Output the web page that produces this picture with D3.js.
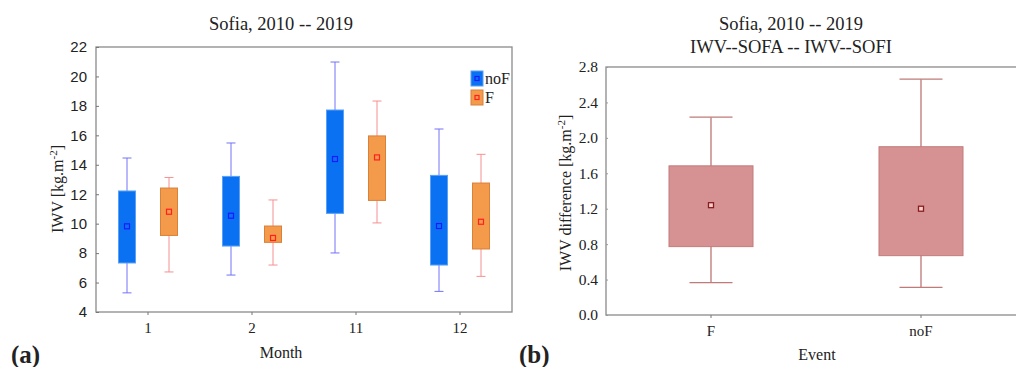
<!DOCTYPE html>
<html>
<head>
<meta charset="utf-8">
<script src="https://cdn.jsdelivr.net/npm/d3@7"></script>
<style>
  body { margin: 0; background: #fff; }
  svg text { fill: #222; }
  .serif { font-family: "Liberation Serif", "Times New Roman", serif; }
  .sans { font-family: "Liberation Sans", Arial, sans-serif; }
</style>
</head>
<body>
<div id="chart"></div>
<script>
// panel (a): IWV by month, noF vs F
const months = ["1", "2", "11", "12"];
const noF_min  = [5.30, 6.51, 8.01, 5.40];
const noF_q1   = [7.33, 8.48, 10.70, 7.19];
const noF_mean = [9.82, 10.54, 14.39, 9.84];
const noF_q3   = [12.22, 13.21, 17.72, 13.28];
const noF_max  = [14.46, 15.48, 20.98, 16.43];

const F_min  = [6.72, 7.19, 10.05, 6.42];
const F_q1   = [9.20, 8.73, 11.58, 8.28];
const F_mean = [10.81, 9.03, 14.50, 10.13];
const F_q3   = [12.42, 9.84, 15.96, 12.76];
const F_max  = [13.14, 11.61, 18.33, 14.71];

const yTicksA = [4, 6, 8, 10, 12, 14, 16, 18, 20, 22];

// panel (b): IWV difference by event
const events = ["F", "noF"];
const d_min  = [0.365, 0.313];
const d_q1   = [0.772, 0.670];
const d_mean = [1.240, 1.200];
const d_q3   = [1.684, 1.900];
const d_max  = [2.234, 2.663];

const yTicksB = [0.0, 0.4, 0.8, 1.2, 1.6, 2.0, 2.4, 2.8];

let width = 1016, height = 367;

const svg = d3.select("#chart")
  .append("svg")
  .attr("width", width)
  .attr("height", height);

// ---------- panel (a) ----------
let ma = { left: 96, right: 512, top: 47, bottom: 312 };

let xa = d3.scaleBand().domain(months).range([ma.left, ma.right]);
let ya = d3.scaleLinear().domain([4, 22]).range([ma.bottom, ma.top]);

let series = [
  { name: "noF", off: -21, min: noF_min, q1: noF_q1, mean: noF_mean, q3: noF_q3, max: noF_max,
    fill: "#0a72f2", edge: "#5aa0f5", whisk: "#7272f8", mark: "#1a1aff" },
  { name: "F", off: 21, min: F_min, q1: F_q1, mean: F_mean, q3: F_q3, max: F_max,
    fill: "#f39a4b", edge: "#d9803a", whisk: "#f49090", mark: "#ff2020" }
];

// frame
svg.append("rect")
  .attr("x", ma.left).attr("y", ma.top)
  .attr("width", ma.right - ma.left).attr("height", ma.bottom - ma.top)
  .attr("fill", "none").attr("stroke", "#8a8a8a").attr("stroke-width", 1.3);

let gya = svg.append("g")
  .attr("transform", `translate(${ma.left},0)`)
  .call(d3.axisLeft(ya).tickValues(yTicksA).tickSize(-3).tickPadding(9).tickFormat(d3.format("d")));
gya.select(".domain").remove();
gya.selectAll("line").attr("stroke", "#777");
gya.selectAll("text").attr("class", "sans").style("font-size", "15px").attr("fill", "#222");

let gxa = svg.append("g")
  .attr("transform", `translate(0,${ma.bottom})`)
  .call(d3.axisBottom(xa).tickSize(3).tickPadding(7));
gxa.select(".domain").remove();
gxa.selectAll("line").attr("stroke", "#777");
gxa.selectAll("text").attr("class", "serif").style("font-size", "15px").attr("fill", "#222");

for (let s of series) {
  let g = svg.append("g");
  let cx = (d, i) => xa(months[i]) + xa.bandwidth() / 2 + s.off;
  // whiskers
  g.selectAll(".wh").data(months).join("line")
    .attr("x1", cx).attr("x2", cx)
    .attr("y1", (d, i) => ya(s.min[i])).attr("y2", (d, i) => ya(s.max[i]))
    .attr("stroke", s.whisk).attr("stroke-width", 1);
  for (let key of ["min", "max"]) {
    g.selectAll(".cap-" + key).data(months).join("line")
      .attr("x1", (d, i) => cx(d, i) - 4.5).attr("x2", (d, i) => cx(d, i) + 4.5)
      .attr("y1", (d, i) => ya(s[key][i])).attr("y2", (d, i) => ya(s[key][i]))
      .attr("stroke", s.whisk).attr("stroke-width", 1);
  }
  // boxes
  g.selectAll(".box").data(months).join("rect")
    .attr("x", (d, i) => cx(d, i) - 8.5)
    .attr("y", (d, i) => ya(s.q3[i]))
    .attr("width", 17)
    .attr("height", (d, i) => ya(s.q1[i]) - ya(s.q3[i]))
    .attr("fill", s.fill).attr("stroke", s.edge).attr("stroke-width", 1);
  // mean markers
  g.selectAll(".mean").data(months).join("rect")
    .attr("x", (d, i) => cx(d, i) - 2.5)
    .attr("y", (d, i) => ya(s.mean[i]) - 2.5)
    .attr("width", 5).attr("height", 5)
    .attr("fill", "none").attr("stroke", s.mark).attr("stroke-width", 1.2);
}

// legend
let leg = svg.append("g").attr("transform", "translate(471,71)");
series.forEach((s, i) => {
  let lg = leg.append("g").attr("transform", `translate(0,${i * 19})`);
  lg.append("rect").attr("width", 12).attr("height", 15)
    .attr("fill", s.fill).attr("stroke", s.edge);
  lg.append("rect").attr("x", 4).attr("y", 5.5).attr("width", 4).attr("height", 4)
    .attr("fill", "none").attr("stroke", s.mark).attr("stroke-width", 1.2);
  lg.append("text").attr("class", "serif").attr("x", 14).attr("y", 13)
    .style("font-size", "16px").text(s.name);
});

svg.append("text").attr("class", "serif")
  .attr("x", 281).attr("y", 30).attr("text-anchor", "middle")
  .style("font-size", "18.5px").text("Sofia, 2010 -- 2019");

svg.append("text").attr("class", "serif")
  .attr("x", 281).attr("y", 358).attr("text-anchor", "middle")
  .style("font-size", "16px").text("Month");

let yla = svg.append("text").attr("class", "serif")
  .attr("transform", "translate(63,189) rotate(-90)")
  .attr("text-anchor", "middle").style("font-size", "16px");
yla.append("tspan").text("IWV [kg.m");
yla.append("tspan").attr("dy", -6).style("font-size", "11px").text("-2");
yla.append("tspan").attr("dy", 6).text("]");

svg.append("text").attr("class", "serif")
  .attr("x", 11).attr("y", 363)
  .style("font-size", "25px").style("font-weight", "bold").text("(a)");

// ---------- panel (b) ----------
let mb = { left: 606, right: 1026, top: 67, bottom: 315 };

let xb = d3.scaleBand().domain(events).range([mb.left, mb.right]);
let yb = d3.scaleLinear().domain([0, 2.8]).range([mb.bottom, mb.top]);

svg.append("rect")
  .attr("x", mb.left).attr("y", mb.top)
  .attr("width", mb.right - mb.left).attr("height", mb.bottom - mb.top)
  .attr("fill", "none").attr("stroke", "#8a8a8a").attr("stroke-width", 1.3);

let gyb = svg.append("g")
  .attr("transform", `translate(${mb.left},0)`)
  .call(d3.axisLeft(yb).tickValues(yTicksB).tickSize(-2).tickPadding(8).tickFormat(d3.format(".1f")));
gyb.select(".domain").remove();
gyb.selectAll("line").attr("stroke", "#999");
gyb.selectAll("text").attr("class", "serif").style("font-size", "15.5px").attr("fill", "#222");

let gxb = svg.append("g")
  .attr("transform", `translate(0,${mb.bottom})`)
  .call(d3.axisBottom(xb).tickSize(3).tickPadding(7));
gxb.select(".domain").remove();
gxb.selectAll("line").attr("stroke", "#777");
gxb.selectAll("text").attr("class", "serif").style("font-size", "15px").attr("fill", "#222");

let cb = (d, i) => xb(events[i]) + xb.bandwidth() / 2;
let gb = svg.append("g");
gb.selectAll(".wh").data(events).join("line")
  .attr("x1", cb).attr("x2", cb)
  .attr("y1", (d, i) => yb(d_min[i])).attr("y2", (d, i) => yb(d_max[i]))
  .attr("stroke", "#b86a6a").attr("stroke-width", 1.2);
for (let arr of [d_min, d_max]) {
  gb.append("g").selectAll("line").data(events).join("line")
    .attr("x1", (d, i) => cb(d, i) - 21.5).attr("x2", (d, i) => cb(d, i) + 21.5)
    .attr("y1", (d, i) => yb(arr[i])).attr("y2", (d, i) => yb(arr[i]))
    .attr("stroke", "#c07a7a").attr("stroke-width", 1.3);
}
gb.selectAll(".box").data(events).join("rect")
  .attr("x", (d, i) => cb(d, i) - 42)
  .attr("y", (d, i) => yb(d_q3[i]))
  .attr("width", 84)
  .attr("height", (d, i) => yb(d_q1[i]) - yb(d_q3[i]))
  .attr("fill", "#d69292").attr("stroke", "#c47a7a").attr("stroke-width", 1);
gb.selectAll(".mean").data(events).join("rect")
  .attr("x", (d, i) => cb(d, i) - 2.5)
  .attr("y", (d, i) => yb(d_mean[i]) - 2.5)
  .attr("width", 5).attr("height", 5)
  .attr("fill", "#f0d0d0").attr("stroke", "#8b1c1c").attr("stroke-width", 1.3);

let tb = svg.append("text").attr("class", "serif")
  .attr("text-anchor", "middle").style("font-size", "18.5px");
tb.append("tspan").attr("x", 791).attr("y", 30).text("Sofia, 2010 -- 2019");
tb.append("tspan").attr("x", 791).attr("y", 53).text("IWV--SOFA -- IWV--SOFI");

svg.append("text").attr("class", "serif")
  .attr("x", 817).attr("y", 360).attr("text-anchor", "middle")
  .style("font-size", "16px").text("Event");

let ylb = svg.append("text").attr("class", "serif")
  .attr("transform", "translate(571,193) rotate(-90)")
  .attr("text-anchor", "middle").style("font-size", "16px");
ylb.append("tspan").text("IWV difference [kg.m");
ylb.append("tspan").attr("dy", -6).style("font-size", "11px").text("-2");
ylb.append("tspan").attr("dy", 6).text("]");

svg.append("text").attr("class", "serif")
  .attr("x", 519).attr("y", 363)
  .style("font-size", "25px").style("font-weight", "bold").text("(b)");
</script>
</body>
</html>
